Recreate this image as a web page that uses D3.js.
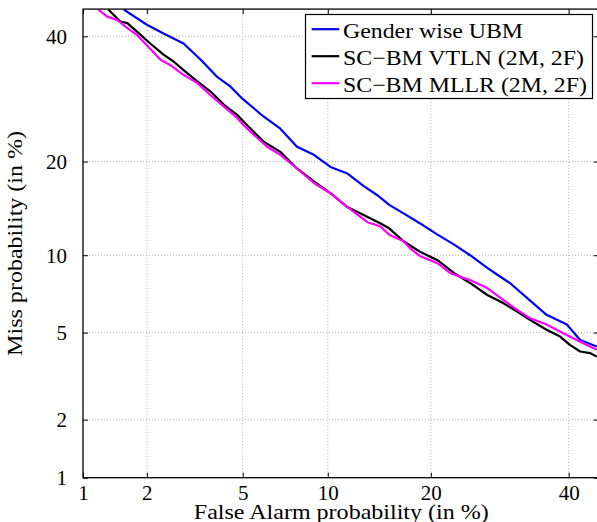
<!DOCTYPE html>
<html>
<head>
<meta charset="utf-8">
<script src="https://cdn.jsdelivr.net/npm/d3@7"></script>
<style>
  html, body { margin: 0; padding: 0; background: #fff; }
  svg { display: block; }
  text { font-family: "Liberation Serif", "Times New Roman", Times, serif; fill: #000; }
</style>
</head>
<body>
<svg id="chart" width="597" height="522"></svg>
<script>
// ---------------- DATA (percent values) ----------------
const tickValues = [1, 2, 5, 10, 20, 40];
const tickLabels = ["1", "2", "5", "10", "20", "40"];
const axisMin = 1, axisMax = 45;

const seriesNames = ["Gender wise UBM", "SC\u2212BM VTLN (2M, 2F)", "SC\u2212BM MLLR (2M, 2F)"];
const seriesColors = ["#0000ff", "#000000", "#ff00ff"];

// False alarm (%) / miss (%) pairs
const ubmFA   = [1.57, 2.0, 2.37, 2.89, 3.41, 3.96, 4.49, 5.0, 6.0, 6.89, 7.88, 9.0, 10.2, 11.5, 13.0, 14.2, 15.4, 16.9, 18.7, 20.8, 22.9, 25.0, 27.4, 28.8, 30.7, 33.8, 36.4, 39.7, 41.9, 44.7];
const ubmMiss = [44.9, 42.1, 40.5, 38.7, 35.8, 32.9, 31.2, 29.2, 26.4, 24.6, 22.0, 20.9, 19.3, 18.5, 16.9, 15.9, 14.8, 13.9, 12.9, 11.8, 10.9, 10.0, 9.0, 8.5, 7.9, 6.75, 5.92, 5.4, 4.65, 4.36];

const vtlnFA   = [1.33, 1.51, 1.63, 1.81, 2.07, 2.37, 2.62, 2.89, 3.3, 3.74, 4.22, 4.76, 5.2, 6.0, 6.89, 7.88, 9.0, 10.2, 11.5, 13.0, 14.5, 15.4, 16.9, 18.7, 20.8, 22.9, 25.0, 27.4, 29.7, 31.8, 33.7, 36.4, 38.6, 40.2, 41.9, 43.6, 44.7];
const vtlnMiss = [44.9, 42.7, 42.4, 40.8, 38.7, 36.7, 35.5, 34.0, 32.1, 30.4, 28.3, 26.7, 25.1, 22.7, 21.3, 19.1, 17.5, 16.1, 14.6, 13.7, 12.9, 12.4, 11.2, 10.3, 9.6, 8.6, 7.9, 7.1, 6.6, 6.1, 5.66, 5.14, 4.81, 4.43, 4.15, 4.08, 3.94];

const mllrFA   = [1.19, 1.31, 1.46, 1.63, 1.81, 2.0, 2.3, 2.53, 2.89, 3.3, 3.74, 4.22, 4.76, 5.2, 6.17, 6.89, 7.88, 9.0, 10.2, 11.5, 13.3, 14.5, 15.4, 16.9, 17.6, 18.7, 20.8, 22.4, 25.0, 27.4, 29.7, 31.8, 33.7, 36.4, 39.1, 41.9, 44.7];
const mllrMiss = [44.9, 43.6, 43.0, 41.5, 40.2, 38.4, 35.8, 34.9, 33.2, 31.8, 29.8, 28.0, 26.2, 24.6, 22.0, 20.9, 19.1, 17.3, 16.1, 14.6, 13.0, 12.6, 11.8, 11.2, 10.6, 9.94, 9.36, 8.6, 8.1, 7.55, 6.8, 6.2, 5.75, 5.4, 4.97, 4.57, 4.22];

const xLabel = "False Alarm probability (in %)";
const yLabel = "Miss probability (in %)";

// ---------------- probit (inverse normal CDF, Acklam) ----------------
function probit(p) {
  const a = [-3.969683028665376e+01, 2.209460984245205e+02, -2.759285104469687e+02, 1.383577518672690e+02, -3.066479806614716e+01, 2.506628277459239e+00];
  const b = [-5.447609879822406e+01, 1.615858368580409e+02, -1.556989798598866e+02, 6.680131188771972e+01, -1.328068155288572e+01];
  const c = [-7.784894002430293e-03, -3.223964580411365e-01, -2.400758277161838e+00, -2.549732539343734e+00, 4.374664141464968e+00, 2.938163982698783e+00];
  const d = [7.784695709041462e-03, 3.224671290700398e-01, 2.445134137142996e+00, 3.754408661907416e+00];
  const plow = 0.02425, phigh = 1 - plow;
  let q, r;
  if (p < plow) {
    q = Math.sqrt(-2 * Math.log(p));
    return (((((c[0]*q+c[1])*q+c[2])*q+c[3])*q+c[4])*q+c[5]) / ((((d[0]*q+d[1])*q+d[2])*q+d[3])*q+1);
  }
  if (p <= phigh) {
    q = p - 0.5; r = q * q;
    return (((((a[0]*r+a[1])*r+a[2])*r+a[3])*r+a[4])*r+a[5])*q / (((((b[0]*r+b[1])*r+b[2])*r+b[3])*r+b[4])*r+1);
  }
  q = Math.sqrt(-2 * Math.log(1 - p));
  return -(((((c[0]*q+c[1])*q+c[2])*q+c[3])*q+c[4])*q+c[5]) / ((((d[0]*q+d[1])*q+d[2])*q+d[3])*q+1);
}

// ---------------- layout ----------------
const L = 83, R = 598.6, T = 9.1, B = 477.7;
const svg = d3.select("#chart");

function probitScale(range) {
  const lin = d3.scaleLinear().domain([probit(axisMin / 100), probit(axisMax / 100)]).range(range);
  const s = v => lin(probit(v / 100));
  s.domain = () => [axisMin, axisMax];
  s.range = () => lin.range();
  s.copy = () => probitScale(range);
  return s;
}
const x = probitScale([L, R]);
const y = probitScale([B, T]);

// clip
svg.append("defs").append("clipPath").attr("id", "clip")
  .append("rect").attr("x", L).attr("y", T).attr("width", R - L).attr("height", B - T);

// grid
const grid = svg.append("g").attr("class", "grid");
const gridTicks = tickValues.filter(v => v !== axisMin);
grid.selectAll("line.gx").data(gridTicks).enter().append("line")
  .attr("x1", d => x(d)).attr("x2", d => x(d)).attr("y1", T).attr("y2", B)
  .attr("stroke", "#b4b4b4").attr("stroke-width", 1).attr("stroke-dasharray", "1,2");
grid.selectAll("line.gy").data(gridTicks).enter().append("line")
  .attr("y1", d => y(d)).attr("y2", d => y(d)).attr("x1", L).attr("x2", R)
  .attr("stroke", "#b4b4b4").attr("stroke-width", 1).attr("stroke-dasharray", "1,2");

// curves
const series = [
  { fa: ubmFA, miss: ubmMiss },
  { fa: vtlnFA, miss: vtlnMiss },
  { fa: mllrFA, miss: mllrMiss }
];
const line = d3.line().x(d => x(d[0])).y(d => y(d[1]));
const curves = svg.append("g").attr("clip-path", "url(#clip)");
series.forEach((s, i) => {
  const pts = s.fa.map((f, k) => [f, s.miss[k]]);
  curves.append("path").datum(pts)
    .attr("d", line).attr("fill", "none")
    .attr("stroke", seriesColors[i]).attr("stroke-width", 2.2)
    .attr("stroke-linejoin", "round");
});

// axes (ticks inward, mirrored)
const fmt = (d) => tickLabels[tickValues.indexOf(d)];
const axB = svg.append("g").attr("transform", `translate(0,${B})`)
  .call(d3.axisBottom(x).tickValues(tickValues).tickFormat(fmt).tickSize(-5).tickPadding(7));
const axT = svg.append("g").attr("transform", `translate(0,${T})`)
  .call(d3.axisTop(x).tickValues(tickValues).tickFormat("").tickSize(-5));
const axL = svg.append("g").attr("transform", `translate(${L},0)`)
  .call(d3.axisLeft(y).tickValues(tickValues).tickFormat(fmt).tickSize(-5).tickPadding(16));
const axR = svg.append("g").attr("transform", `translate(${R},0)`)
  .call(d3.axisRight(y).tickValues(tickValues).tickFormat("").tickSize(-5));
[axB, axT, axL, axR].forEach(g => {
  g.attr("font-family", null);
  g.select(".domain").remove();
  g.selectAll(".tick line").attr("stroke", "#000").attr("stroke-width", 1);
  g.selectAll("text").attr("font-size", 21).attr("fill", "#000");
});
axB.selectAll(".tick text").attr("dy", null).attr("y", 22);
axL.selectAll(".tick text").attr("dy", "0.34em");

// frame
svg.append("rect").attr("x", L).attr("y", T).attr("width", R - L).attr("height", B - T)
  .attr("fill", "none").attr("stroke", "#000").attr("stroke-width", 1.3);

// axis labels
svg.append("text").attr("x", (L + R) / 2 + 0.5).attr("y", 518.5)
  .attr("text-anchor", "middle").attr("font-size", 21)
  .attr("textLength", 295).attr("lengthAdjust", "spacingAndGlyphs")
  .text(xLabel);
svg.append("text").attr("transform", `translate(22,${(T + B) / 2}) rotate(-90)`)
  .attr("text-anchor", "middle").attr("font-size", 21)
  .attr("textLength", 225).attr("lengthAdjust", "spacingAndGlyphs")
  .text(yLabel);

// legend
const lg = svg.append("g");
lg.append("rect").attr("x", 305.5).attr("y", 14.5).attr("width", 287).attr("height", 84)
  .attr("fill", "#fff").attr("stroke", "#000").attr("stroke-width", 1.2);
const legendLens = [180, 241, 244];
seriesNames.forEach((name, i) => {
  const by = 37.5 + i * 27;
  lg.append("line").attr("x1", 311.7).attr("x2", 339.3).attr("y1", by - 8.3).attr("y2", by - 8.3)
    .attr("stroke", seriesColors[i]).attr("stroke-width", 2.2);
  lg.append("text").attr("x", 343).attr("y", by).attr("font-size", 21)
    .attr("textLength", legendLens[i]).attr("lengthAdjust", "spacingAndGlyphs")
    .text(name);
});
</script>
</body>
</html>
